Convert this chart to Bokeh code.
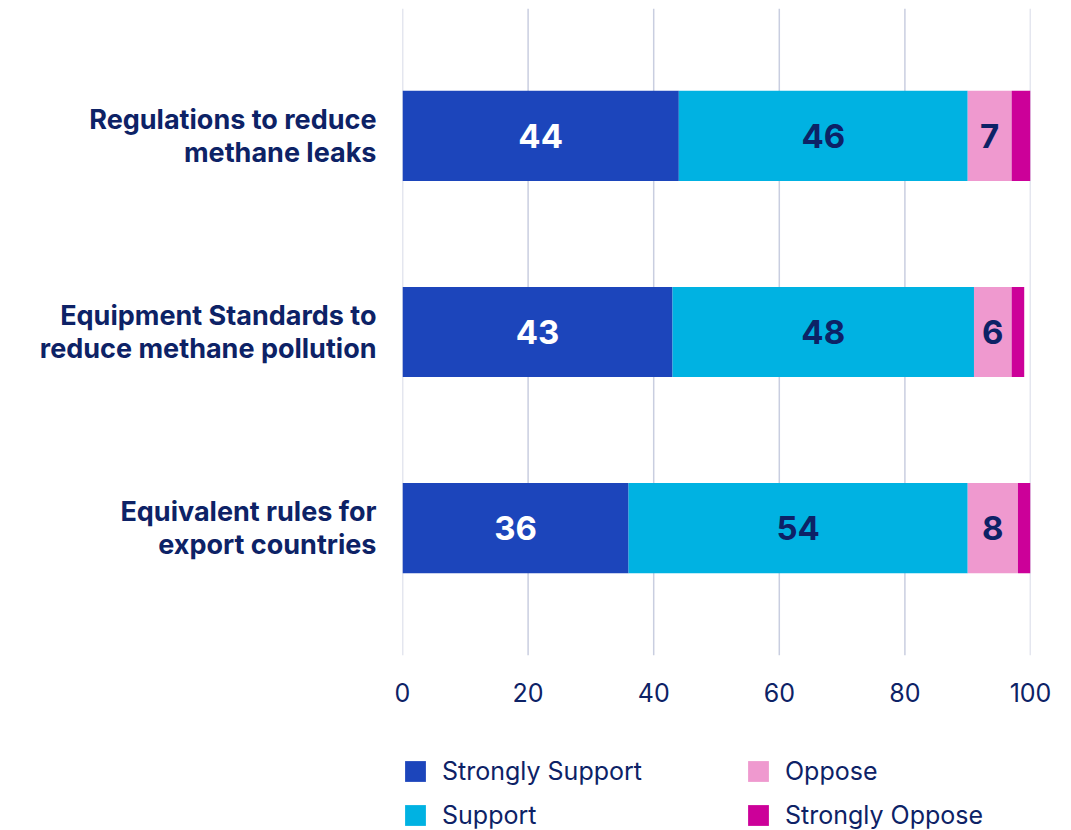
from bokeh.plotting import figure
from bokeh.layouts import column
from bokeh.models import Range1d, Legend, LegendItem, FixedTicker, ColumnDataSource, Span
from bokeh.core.properties import value
from bokeh.embed import file_html
from bokeh.resources import INLINE

categories = ["Regulations to reduce\nmethane leaks",
              "Equipment Standards to\nreduce methane pollution",
              "Equivalent rules for\nexport countries"]
series_names = ["Strongly Support", "Support", "Oppose", "Strongly Oppose"]
strongly_support = [44, 43, 36]
support = [46, 48, 54]
oppose = [7, 6, 8]
strongly_oppose = [3, 2, 2]
x_ticks = [0, 20, 40, 60, 80, 100]

colors = ["#1c45bb", "#00b2e2", "#ef99cf", "#cc0099"]
navy = "#0d2266"
FONT = "Inter"

MAIN_H = 745
p = figure(width=1071, height=MAIN_H, output_backend="svg", toolbar_location=None,
           x_range=Range1d(0, 100), y_range=Range1d(-0.65, 2.65),
           min_border_left=402, min_border_right=41, min_border_top=8,
           min_border_bottom=MAIN_H - 655)
p.outline_line_color = None
p.background_fill_color = "white"
p.border_fill_color = "white"

for t in x_ticks:
    p.add_layout(Span(location=t, dimension="height", line_color="#c9cee0", line_width=1.5,
                      level="underlay"))

ypos = [2 - i for i in range(len(categories))]
series = [strongly_support, support, oppose, strongly_oppose]
left = [0] * len(categories)
for name, vals, col in zip(series_names, series, colors):
    right = [l + v for l, v in zip(left, vals)]
    src = ColumnDataSource(dict(y=ypos, left=left, right=right))
    p.hbar(y="y", left="left", right="right", height=0.46, source=src,
           fill_color=col, line_color=None)
    left = right

# value labels
left = [0] * len(categories)
for vals, tcol in zip(series[:3], ["white", navy, navy]):
    mids = [l + v / 2 for l, v in zip(left, vals)]
    src = ColumnDataSource(dict(x=mids, y=ypos, t=[str(v) for v in vals]))
    p.text(x="x", y="y", text="t", source=src, text_align="center", text_baseline="middle",
           text_color=tcol, text_font=value(FONT), text_font_size="33px", text_font_style="bold")
    left = [l + v for l, v in zip(left, vals)]

p.xgrid.visible = False
p.ygrid.visible = False

p.yaxis.ticker = FixedTicker(ticks=ypos)
p.yaxis.major_label_overrides = {y: c for y, c in zip(ypos, categories)}
p.yaxis.axis_line_color = None
p.yaxis.major_tick_line_color = None
p.yaxis.minor_tick_line_color = None
p.yaxis.major_label_standoff = 20
p.yaxis.major_label_text_font = FONT
p.yaxis.major_label_text_font_size = "27px"
p.yaxis.major_label_text_font_style = "bold"
p.yaxis.major_label_text_color = navy
p.yaxis.major_label_text_align = "right"
p.yaxis.major_label_text_line_height = 1.0

p.xaxis.ticker = FixedTicker(ticks=x_ticks)
p.xaxis.axis_line_color = None
p.xaxis.major_tick_line_color = None
p.xaxis.minor_tick_line_color = None
p.xaxis.major_label_standoff = 21
p.xaxis.major_label_text_font = FONT
p.xaxis.major_label_text_font_size = "25px"
p.xaxis.major_label_text_color = navy

# legend figure (frame aligned with the main figure by the column layout)
LEG_H = 830 - MAIN_H
q = figure(width=1071, height=LEG_H, output_backend="svg", toolbar_location=None,
           x_range=Range1d(0, 1), y_range=Range1d(0, 1),
           min_border_left=0, min_border_right=0, min_border_top=0, min_border_bottom=0)
q.axis.visible = False
q.grid.visible = False
q.outline_line_color = None
q.background_fill_color = "white"
q.border_fill_color = "white"
leg_renderers = []
for col in colors:
    src = ColumnDataSource(dict(y=[0.5], left=[0.5], right=[0.5]))
    r = q.hbar(y="y", left="left", right="right", height=0.0, source=src,
               fill_color=col, line_color=None)
    leg_renderers.append(r)

legend = Legend(items=[LegendItem(label=n, renderers=[r]) for n, r in zip(series_names, leg_renderers)],
                location=(0, 0), orientation="vertical", nrows=2,
                glyph_width=26, glyph_height=26, label_standoff=14, spacing=14,
                label_width=289, label_height=26, padding=0, margin=0,
                border_line_color=None, background_fill_alpha=0,
                label_text_font=FONT, label_text_font_size="25px", label_text_color=navy)
q.add_layout(legend, "center")

layout = column(p, q, spacing=0)
open("out.html", "w").write(file_html(layout, INLINE))
